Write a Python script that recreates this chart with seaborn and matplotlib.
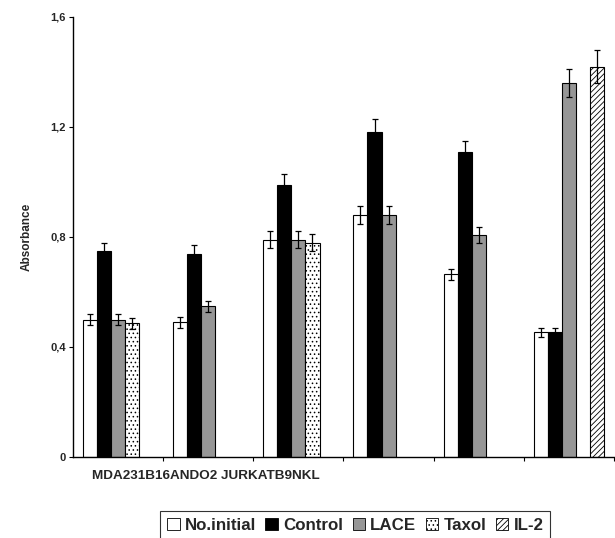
import numpy as np
import pandas as pd
import matplotlib
matplotlib.use("Agg")
import matplotlib.pyplot as plt
import matplotlib.patches as mpatches
import seaborn as sns

cells = ["MDA231", "B16", "ANDO2", "JURKAT", "B9", "NKL"]
treatments = ["No.initial", "Control", "LACE", "Taxol", "IL-2"]

no_initial = [0.50, 0.49, 0.79, 0.88, 0.665, 0.453]
control    = [0.75, 0.74, 0.99, 1.183, 1.11, 0.453]
lace       = [0.50, 0.549, 0.79, 0.88, 0.807, 1.36]
taxol      = [0.486, None, 0.78, None, None, None]
il2        = [None, None, None, None, None, 1.42]

err_no_initial = [0.02, 0.02, 0.03, 0.034, 0.02, 0.015]
err_control    = [0.03, 0.03, 0.04, 0.045, 0.04, 0.015]
err_lace       = [0.02, 0.02, 0.03, 0.034, 0.03, 0.05]
err_taxol      = [0.02, None, 0.03, None, None, None]
err_il2        = [None, None, None, None, None, 0.06]

yticks = [0, 0.4, 0.8, 1.2, 1.6]
ytick_labels = ["0", "0,4", "0,8", "1,2", "1,6"]

values = [no_initial, control, lace, taxol, il2]
errors = [err_no_initial, err_control, err_lace, err_taxol, err_il2]

rows = []
for t, vals, errs in zip(treatments, values, errors):
    for c, v, e in zip(cells, vals, errs):
        if v is not None:
            rows.append({"cell": c, "treatment": t, "value": v, "err": e})
df = pd.DataFrame(rows)

sns.set_style("white")
plt.rcParams["font.family"] = ["Liberation Sans", "DejaVu Sans"]
plt.rcParams["hatch.linewidth"] = 0.6

fig = plt.figure(figsize=(6.15, 5.38), dpi=100)
ax = fig.add_axes([73/615, 81/538, 541/615, 440/538])

face = {"No.initial": "white", "Control": "black", "LACE": "#969696",
        "Taxol": "white", "IL-2": "white"}
hatch = {"No.initial": "", "Control": "", "LACE": "", "Taxol": "....", "IL-2": "//////"}

sns.barplot(data=df, x="cell", y="value", hue="treatment", order=cells,
            hue_order=treatments, errorbar=None, width=0.78, dodge=True,
            palette=face, edgecolor="black", linewidth=0.8, ax=ax, legend=False)

for cont, t in zip(ax.containers, treatments):
    sub = df[df.treatment == t].set_index("cell")
    for bar in cont:
        bar.set_hatch(hatch[t])
        bar.set_edgecolor("black")
        xc = bar.get_x() + bar.get_width() / 2
        ci = int(round(xc))
        c = cells[ci]
        if c in sub.index:
            e = sub.loc[c, "err"]
            ax.errorbar(xc, bar.get_height(), yerr=e, fmt="none", ecolor="black",
                        elinewidth=0.9, capsize=2.5, capthick=0.9, zorder=5)

ax.set_xlim(-0.5, len(cells) - 0.5)
ax.set_ylim(0, 1.6)
ax.set_yticks(yticks)
ax.set_yticklabels(ytick_labels, fontsize=8, fontweight="bold")
ax.set_xticks(np.arange(len(cells)) + 0.5)
ax.set_xticklabels([])
ax.set_xlabel("")
ax.set_ylabel("Absorbance", fontsize=8.5, fontweight="bold", labelpad=13)
for s in ["top", "right"]:
    ax.spines[s].set_visible(False)
for s in ["left", "bottom"]:
    ax.spines[s].set_color("black")
    ax.spines[s].set_linewidth(1.0)
ax.tick_params(axis="both", direction="out", length=3, width=0.8, color="black",
               left=True, bottom=True, pad=2)

label_text = "".join(cells[:3]) + " " + "".join(cells[3:])
fig.text(92/615, 1 - 476/538, label_text, fontsize=9.7, fontweight="bold",
         ha="left", va="center")

handles = [mpatches.Patch(facecolor=face[t], edgecolor="black", hatch=hatch[t],
                          linewidth=0.6, label=t) for t in treatments]
leg = fig.legend(handles=handles, loc="upper center", bbox_to_anchor=(0.5775, 1 - 511/538),
                 ncol=5, frameon=True, fancybox=False,
                 prop={"weight": "bold", "size": 12.2}, handlelength=0.75,
                 handleheight=0.75, handletextpad=0.3, columnspacing=0.55,
                 borderpad=0.4, borderaxespad=0)
leg.get_frame().set_edgecolor("black")
leg.get_frame().set_linewidth(0.8)

fig.savefig("out.png", dpi=100)
